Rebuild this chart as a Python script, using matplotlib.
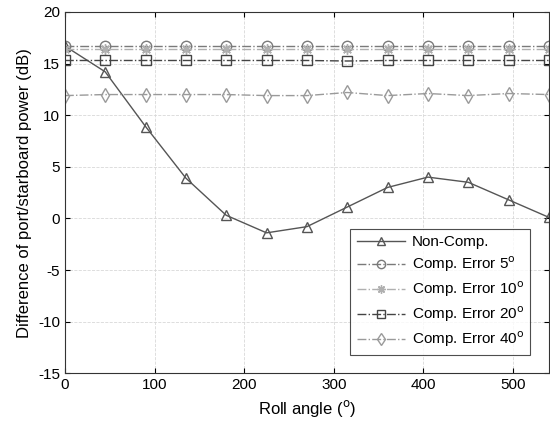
import numpy as np
import matplotlib.pyplot as plt

plt.rcParams['font.family'] = ['Liberation Sans', 'DejaVu Sans']
plt.rcParams['axes.unicode_minus'] = False

# roll angle samples (deg)
roll = [0, 45, 90, 135, 180, 225, 270, 315, 360, 405, 450, 495, 540]

non_comp = [16.7, 14.2, 8.9, 3.9, 0.3, -1.4, -0.8, 1.1, 3.0, 4.0, 3.5, 1.8, 0.1]
err_5 = [16.75, 16.75, 16.75, 16.75, 16.75, 16.75, 16.75, 16.75, 16.75, 16.75, 16.75, 16.75, 16.75]
err_10 = [16.4, 16.4, 16.4, 16.4, 16.4, 16.4, 16.4, 16.4, 16.4, 16.4, 16.4, 16.4, 16.4]
err_20 = [15.3, 15.3, 15.3, 15.3, 15.3, 15.3, 15.3, 15.25, 15.3, 15.3, 15.3, 15.3, 15.3]
err_40 = [11.9, 12.0, 12.0, 12.0, 12.0, 11.9, 11.9, 12.2, 11.9, 12.1, 11.9, 12.1, 12.0]

fig = plt.figure(figsize=[5.5, 4.28], dpi=100)
plt.subplots_adjust(left=0.118, bottom=0.128, right=0.998, top=0.972)
ax = plt.subplot(111)
ax.grid(True, linestyle='--', linewidth=0.6, color='#d8d8d8')
ax.set_axisbelow(True)

ms = 7.5
asterisk = (8, 2, 0)
ax.plot(roll, non_comp, '-', marker='^', color='#555555', mfc='none', ms=ms, mew=1.0, lw=1.0, label='Non-Comp.')
ax.plot(roll, err_5, '-.', marker='o', color='#7a7a7a', mfc='none', ms=ms, mew=1.0, lw=1.0, label='Comp. Error 5$^{\\mathrm{o}}$')
ax.plot(roll, err_10, '-.', marker=asterisk, color='#b0b0b0', mfc='none', ms=ms, mew=1.0, lw=1.0, label='Comp. Error 10$^{\\mathrm{o}}$')
ax.plot(roll, err_20, '-.', marker='s', color='#444444', mfc='none', ms=6.5, mew=1.0, lw=1.0, label='Comp. Error 20$^{\\mathrm{o}}$')
ax.plot(roll, err_40, '-.', marker='d', color='#9a9a9a', mfc='none', ms=ms, mew=1.0, lw=1.0, label='Comp. Error 40$^{\\mathrm{o}}$')

ax.set_xlim(0, 540)
ax.set_ylim(-15, 20)
ax.set_xticks([0, 100, 200, 300, 400, 500])
ax.set_yticks(range(-15, 21, 5))
ax.tick_params(direction='in', top=True, right=True, labelsize=11)
for s in ax.spines.values():
    s.set_color('#333333')

ax.set_xlabel('Roll angle ($^{\\mathrm{o}}$)', fontsize=12)
ax.set_ylabel('Difference of port/starboard power (dB)', fontsize=12)

leg = ax.legend(loc='lower right', bbox_to_anchor=(0.961, 0.05), borderaxespad=0,
                fontsize=11, frameon=True, fancybox=False, edgecolor='#222222',
                handlelength=3.2, handletextpad=0.4, labelspacing=0.35, borderpad=0.4,
                markerscale=0.8)
leg.get_frame().set_linewidth(0.8)

plt.savefig('out.png', dpi=100)
